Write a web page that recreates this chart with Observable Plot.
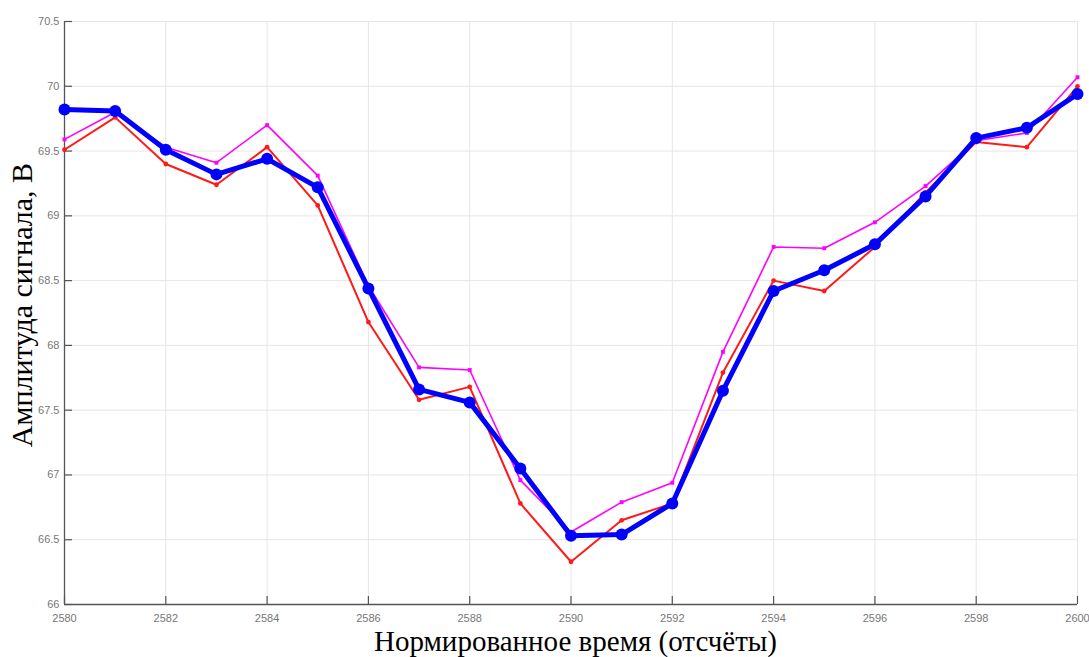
<!DOCTYPE html>
<html>
<head>
<meta charset="utf-8">
<script src="https://cdn.jsdelivr.net/npm/d3@7"></script>
<script src="https://cdn.jsdelivr.net/npm/@observablehq/plot@0.6"></script>
<style>
  html, body { margin: 0; padding: 0; background: #fff; }
  #chart { width: 1089px; height: 657px; position: relative; }
  .xlab { position: absolute; left: 31px; width: 1089px; top: 625px; text-align: center; line-height: 32px;
          font-family: "Liberation Serif", "Times New Roman", serif; font-size: 29px; color: #000; }
  .ylab { position: absolute; left: 22px; top: 305px; transform: translate(-50%, -50%) rotate(-90deg);
          white-space: nowrap; line-height: 32px;
          font-family: "Liberation Serif", "Times New Roman", serif; font-size: 30px; color: #000; }
</style>
</head>
<body>
<div id="chart"></div>
<script>
// Отсчёты времени
const samples = d3.range(2580, 2601);

// Сглаженный сигнал (синяя кривая)
const smoothed = [69.82, 69.81, 69.51, 69.32, 69.44, 69.22, 68.44, 67.66, 67.56, 67.05, 66.53,
                  66.54, 66.78, 67.65, 68.42, 68.58, 68.78, 69.15, 69.60, 69.68, 69.94];
// Измеренный сигнал (красная кривая)
const measured = [69.51, 69.76, 69.40, 69.24, 69.53, 69.08, 68.18, 67.58, 67.68, 66.78, 66.33,
                  66.65, 66.78, 67.79, 68.50, 68.42, 68.76, 69.18, 69.57, 69.53, 70.00];
// Опорный сигнал (пурпурная кривая)
const reference = [69.59, 69.80, 69.53, 69.41, 69.70, 69.31, 68.46, 67.83, 67.81, 66.96, 66.56,
                   66.79, 66.94, 67.95, 68.76, 68.75, 68.95, 69.23, 69.58, 69.64, 70.07];

const xTicks = d3.range(2580, 2601, 2);
const yTicks = [66, 66.5, 67, 67.5, 68, 68.5, 69, 69.5, 70, 70.5];
const yTickLabels = ["66", "66.5", "67", "67.5", "68", "68.5", "69", "69.5", "70", "70.5"];

const rows = (vals) => samples.map((t, i) => ({t, v: vals[i]}));

const W = 1089, H = 657, mL = 64, mR = 12, mT = 21, mB = 53;
const tickLen = 8;
const tickFont = {fontFamily: "'Liberation Sans Narrow', 'Liberation Sans', Arial, sans-serif", fontSize: 11, fill: "#777"};

const chart = Plot.plot({
  width: W,
  height: H,
  marginLeft: mL,
  marginRight: mR,
  marginTop: mT,
  marginBottom: mB,
  x: {domain: [2580, 2600], label: null},
  y: {domain: [66, 70.5], label: null},
  style: {background: "#fff", overflow: "visible"},
  marks: [
    Plot.gridX(xTicks, {stroke: "#e6e6e6", strokeOpacity: 1, strokeWidth: 1}),
    Plot.gridY(yTicks, {stroke: "#e6e6e6", strokeOpacity: 1, strokeWidth: 1}),
    // короткие засечки внутрь области построения
    Plot.tickX(xTicks, {x: d => d, stroke: "#555", strokeWidth: 1.2, insetTop: H - mT - mB - tickLen}),
    Plot.tickY(yTicks, {y: d => d, stroke: "#555", strokeWidth: 1.2, insetRight: W - mL - mR - tickLen}),
    Plot.ruleX([2580], {stroke: "#555", strokeWidth: 1.3}),
    Plot.ruleY([66], {stroke: "#555", strokeWidth: 1.3}),
    Plot.axisX(xTicks, {tickSize: 0, tickPadding: 10, ...tickFont, tickFormat: d => String(d)}),
    Plot.axisY(yTicks, {tickSize: 0, tickPadding: 5, ...tickFont,
                        tickFormat: d => yTickLabels[yTicks.indexOf(d)]}),
    Plot.line(rows(reference), {x: "t", y: "v", stroke: "#ff00ff", strokeWidth: 1.6}),
    Plot.dot(rows(reference), {x: "t", y: "v", fill: "#ff00ff", r: 2.2, symbol: "square"}),
    Plot.line(rows(measured), {x: "t", y: "v", stroke: "#ff1a1a", strokeWidth: 2}),
    Plot.dot(rows(measured), {x: "t", y: "v", fill: "#ff1a1a", r: 2.4}),
    Plot.line(rows(smoothed), {x: "t", y: "v", stroke: "#0000ff", strokeWidth: 5}),
    Plot.dot(rows(smoothed), {x: "t", y: "v", fill: "#0000ff", r: 6})
  ]
});

const root = document.getElementById("chart");
chart.style.position = "absolute";
chart.style.left = "0";
chart.style.top = "0";
root.appendChild(chart);
const xl = document.createElement("div");
xl.className = "xlab";
xl.textContent = "Нормированное время (отсчёты)";
root.appendChild(xl);
const yl = document.createElement("div");
yl.className = "ylab";
yl.textContent = "Амплитуда сигнала, В";
root.appendChild(yl);
</script>
</body>
</html>
